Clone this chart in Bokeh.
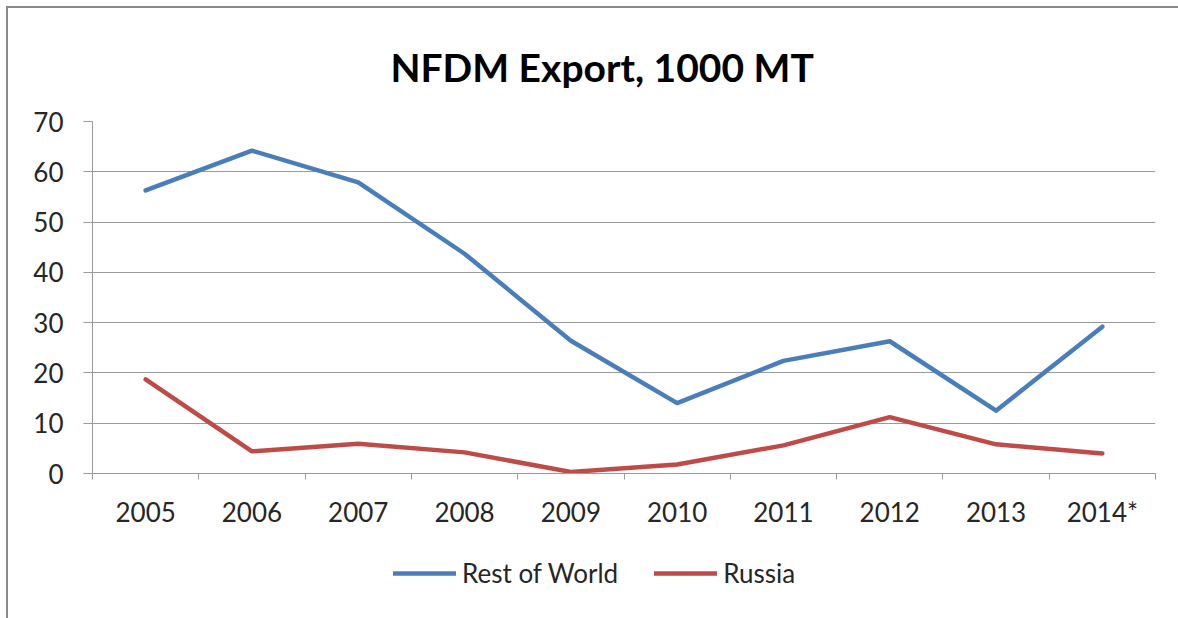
from bokeh.plotting import figure
from bokeh.layouts import column
from bokeh.models import (Range1d, LinearAxis, FixedTicker, Legend, LegendItem, Title)
from bokeh.embed import file_html
from bokeh.resources import INLINE

years = ["2005", "2006", "2007", "2008", "2009", "2010", "2011", "2012", "2013", "2014*"]
rest_of_world = [56.3, 64.2, 57.9, 43.7, 26.4, 14.0, 22.4, 26.3, 12.5, 29.2]
russia = [18.7, 4.4, 5.9, 4.2, 0.3, 1.8, 5.6, 11.2, 5.8, 4.0]
y_ticks = [0, 10, 20, 30, 40, 50, 60, 70]

FONT = "Lato"
TXT = "#262626"
GRID = "#9a9a9a"
BLUE = "#4A7EBB"
RED = "#BE4B48"

n = len(years)
xc = [i + 0.5 for i in range(n)]  # category centres on a 0..n band scale

p = figure(frame_width=1063, frame_height=352, output_backend="svg", toolbar_location=None,
           x_range=Range1d(0, n), y_range=Range1d(0, 70),
           x_axis_location=None, y_axis_location=None,
           min_border_left=84, min_border_right=23, min_border_top=113, min_border_bottom=60)
p.outline_line_color = None
p.background_fill_color = "white"
p.border_fill_color = "white"

# y axis
yax = LinearAxis(ticker=FixedTicker(ticks=y_ticks))
yax.axis_line_color = GRID
yax.major_tick_line_color = GRID
yax.major_tick_out = 9
yax.major_tick_in = 0
yax.minor_tick_line_color = None
yax.major_label_standoff = 20
yax.major_label_text_font = FONT
yax.major_label_text_font_size = "26px"
yax.major_label_text_color = TXT
p.add_layout(yax, "left")

# x tick marks between categories
bounds = list(range(n + 1))
xticks = LinearAxis(ticker=FixedTicker(ticks=bounds),
                    major_label_overrides={b: "" for b in bounds})
xticks.axis_line_color = GRID
xticks.major_tick_line_color = GRID
xticks.major_tick_out = 6
xticks.major_tick_in = 0
xticks.minor_tick_line_color = None
xticks.major_label_text_font_size = "2px"
xticks.major_label_standoff = 0
p.add_layout(xticks, "below")

# x category labels
xax = LinearAxis(ticker=FixedTicker(ticks=xc),
                 major_label_overrides={c: y for c, y in zip(xc, years)})
xax.axis_line_color = None
xax.major_tick_line_color = None
xax.minor_tick_line_color = None
xax.major_label_standoff = 10
xax.major_label_text_font = FONT
xax.major_label_text_font_size = "26px"
xax.major_label_text_color = TXT
p.add_layout(xax, "below")

p.ygrid.ticker = FixedTicker(ticks=y_ticks)
p.ygrid.grid_line_color = GRID
p.ygrid.grid_line_width = 1
p.xgrid.grid_line_color = None

p.line(xc, rest_of_world, line_color=BLUE, line_width=4.5, line_join="round", line_cap="round")
p.line(xc, russia, line_color=RED, line_width=4.5, line_join="round", line_cap="round")

title = Title(text="NFDM Export, 1000 MT", align="left", text_font=FONT, text_font_size="39px",
              text_font_style="bold", text_color="black", offset=298, standoff=64)
p.add_layout(title, "above")

# legend strip below the chart (its own lines sit outside its visible ranges)
pl = figure(width=1170, height=85, output_backend="svg", toolbar_location=None,
            x_range=Range1d(-100, -99), y_range=Range1d(-100, -99),
            x_axis_location=None, y_axis_location=None,
            min_border_left=0, min_border_right=0, min_border_top=0, min_border_bottom=0)
pl.outline_line_color = None
pl.grid.grid_line_color = None
pl.background_fill_color = "white"
pl.border_fill_color = "white"
l1 = pl.line(xc, rest_of_world, line_color=BLUE, line_width=4.5, line_cap="round")
l2 = pl.line(xc, russia, line_color=RED, line_width=4.5, line_cap="round")

legend = Legend(items=[LegendItem(label="Rest of World", renderers=[l1]),
                       LegendItem(label="Russia", renderers=[l2])],
                orientation="horizontal", location=(301, 29),
                label_text_font=FONT, label_text_font_size="26px", label_text_color=TXT,
                glyph_width=63, glyph_height=30, label_standoff=6, spacing=36,
                padding=0, margin=0, border_line_color=None, background_fill_alpha=0)
pl.add_layout(legend, "center")

layout = column(p, pl, spacing=0,
                styles={"border-left": "2px solid #8a8a8a", "border-top": "2px solid #8a8a8a",
                        "margin-left": "6px", "margin-top": "6px"})

open("out.html", "w").write(file_html(layout, INLINE))
